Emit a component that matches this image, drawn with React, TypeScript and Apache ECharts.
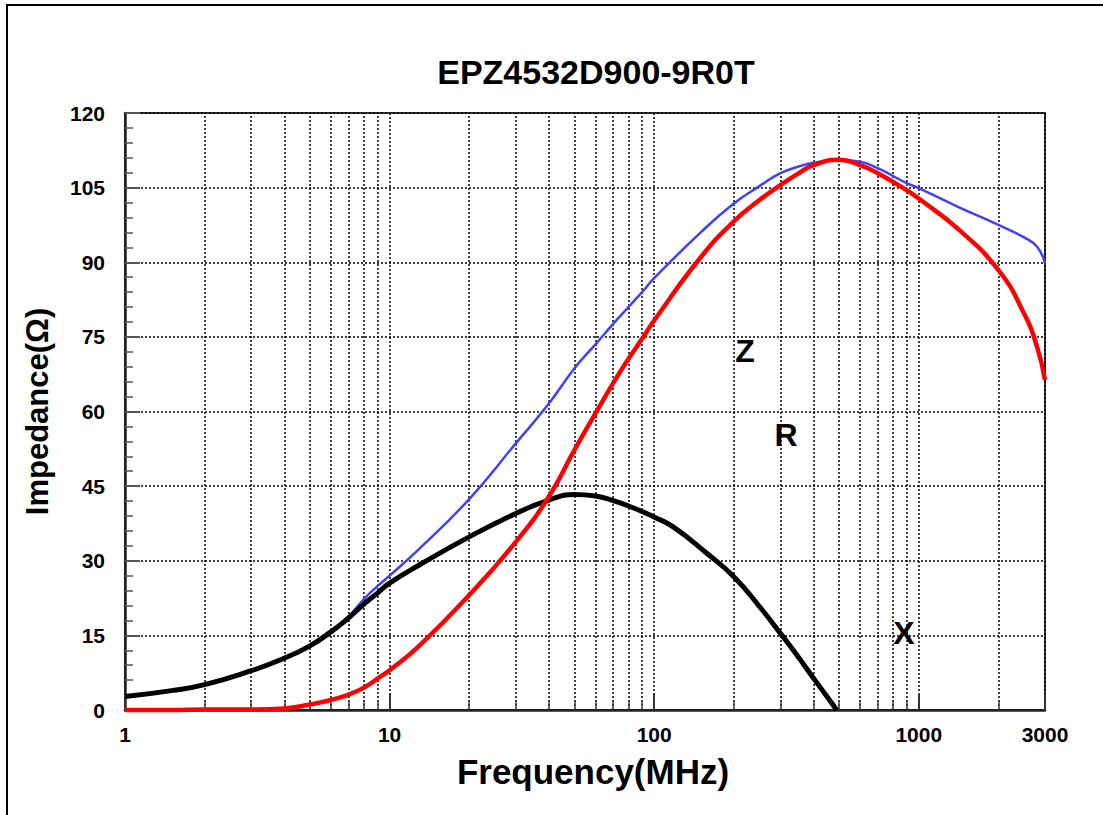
import React, { useEffect, useRef } from "react";
import * as echarts from "echarts";

// Frequency (MHz) samples for Z and R
const freqZR = [1, 1.5, 2, 3, 4, 5, 6, 7, 8, 9, 10, 13, 20, 30, 40, 50, 60, 70, 80, 90, 100, 150, 200, 250, 300, 350, 400, 500, 600, 700, 900, 1000, 1400, 2000, 2500, 2800, 3000];
const zValues = [2.7, 3.9, 5.0, 7.9, 10.4, 13.0, 15.8, 18.8, 22.3, 24.9, 27.0, 32.5, 42.4, 53.6, 61.6, 68.7, 73.5, 77.6, 81.0, 84.0, 86.8, 96.0, 101.8, 105.3, 107.9, 109.2, 110.0, 110.6, 110.2, 108.9, 105.9, 104.9, 101.2, 97.5, 95.0, 93.1, 89.8];
const rValues = [0, 0, 0.1, 0.1, 0.3, 1.1, 2.0, 3.1, 4.5, 6.3, 8.0, 13.0, 23.1, 33.8, 42.9, 52.3, 59.6, 65.7, 70.6, 74.6, 78.3, 91.0, 98.2, 102.5, 105.5, 107.8, 109.5, 110.6, 109.5, 107.9, 104.5, 102.8, 96.8, 88.4, 79.7, 73.0, 66.3];
// Frequency samples for X
const freqX = [1, 1.5, 2, 3, 4, 5, 6, 7, 8, 9, 10, 13, 20, 30, 40, 50, 60, 70, 80, 90, 100, 118, 158, 200, 250, 300, 350, 400, 490];
const xValues = [2.7, 3.9, 5.1, 7.9, 10.4, 12.9, 15.7, 18.5, 21.3, 23.5, 25.5, 29.2, 34.8, 39.5, 42.2, 43.3, 43.0, 42.1, 41.0, 39.9, 38.8, 36.8, 31.5, 26.8, 20.8, 15.4, 10.7, 6.4, 0];
// Minor vertical grid lines / minor ticks on the frequency axis
const minorGrid = [2, 3, 4, 5, 6, 7, 8, 9, 20, 30, 40, 50, 60, 70, 80, 90, 200, 300, 400, 500, 600, 700, 800, 900, 2000];

const FONT = "Liberation Sans, Arial, sans-serif";

export default function App() {
  const ref = useRef<HTMLDivElement>(null);
  useEffect(() => {
    if (!ref.current) return;
    const chart = echarts.init(ref.current, null, { renderer: "svg" });
    const dotted = { color: "#000", width: 1.5, type: [2, 2] as any };
    chart.setOption({
      animation: false,
      backgroundColor: "#fff",
      title: {
        text: "EPZ4532D900-9R0T",
        left: 591,
        top: 50,
        textAlign: "center",
        textStyle: { fontFamily: FONT, fontSize: 34, fontWeight: "bold", color: "#000" },
      },
      grid: {
        left: 125,
        top: 113,
        right: 58,
        bottom: 105,
        show: true,
        borderColor: "#333",
        borderWidth: 2,
        backgroundColor: "transparent",
      },
      xAxis: {
        type: "log",
        logBase: 10,
        min: 1,
        max: 3000,
        name: "Frequency(MHz)",
        nameLocation: "middle",
        nameGap: 44,
        nameTextStyle: { fontFamily: FONT, fontSize: 35, fontWeight: "bold", color: "#000", padding: [0, 0, 0, 16] },
        axisLine: { show: true, onZero: false, lineStyle: { color: "#222", width: 2.5 } },
        axisTick: { show: true, inside: true, length: 16, lineStyle: { color: "#333", width: 2 } },
        axisLabel: {
          fontFamily: FONT,
          fontSize: 21,
          fontWeight: "bold",
          color: "#000",
          margin: 14,
          formatter: (v: number) => String(Math.round(v)),
        },
        splitLine: { show: true, lineStyle: dotted },
      },
      yAxis: {
        type: "value",
        min: 0,
        max: 120,
        interval: 15,
        name: "Impedance(Ω)",
        nameLocation: "middle",
        nameGap: 72,
        nameTextStyle: { fontFamily: FONT, fontSize: 31, fontWeight: "bold", color: "#000" },
        axisLine: { show: true, lineStyle: { color: "#222", width: 2.5 } },
        axisTick: { show: true, inside: true, length: 15, lineStyle: { color: "#555", width: 2 } },
        minorTick: { show: true, splitNumber: 5, length: 8, lineStyle: { color: "#555", width: 1.5 } },
        axisLabel: { fontFamily: FONT, fontSize: 21, fontWeight: "bold", color: "#000", margin: 20 },
        splitLine: { show: true, lineStyle: dotted },
      },
      series: [
        {
          name: "Z",
          type: "line",
          data: freqZR.map((f, i) => [f, zValues[i]]),
          smooth: 0.5,
          showSymbol: false,
          clip: false,
          z: 3,
          lineStyle: { color: "#3f3fff", width: 2.5 },
          markLine: {
            silent: true,
            symbol: "none",
            z: 1,
            label: { show: false },
            lineStyle: dotted,
            data: minorGrid.map((v) => ({ xAxis: v })),
          },
        },
        {
          name: "X",
          type: "line",
          data: freqX.map((f, i) => [f, xValues[i]]),
          smooth: 0.5,
          showSymbol: false,
          clip: false,
          z: 4,
          lineStyle: { color: "#000", width: 5 },
          markLine: {
            silent: true,
            symbol: "none",
            z: 1,
            label: { show: false },
            lineStyle: { color: "#444", width: 1.5, type: "solid" },
            data: minorGrid.map((v) => [{ coord: [v, 0] }, { coord: [v, 1.6] }]),
          },
        },
        {
          name: "R",
          type: "line",
          data: freqZR.map((f, i) => [f, rValues[i]]),
          smooth: 0.5,
          showSymbol: false,
          clip: false,
          z: 5,
          lineStyle: { color: "#ff0000", width: 4.5 },
        },
      ],
      graphic: [
        {
          type: "rect",
          shape: { x: 7, y: 5, width: 1120, height: 840 },
          style: { fill: "none", stroke: "#000", lineWidth: 2 },
          silent: true,
        },
        {
          type: "text",
          x: 745,
          y: 351,
          style: { text: "Z", fontFamily: FONT, fontSize: 32, fontWeight: "bold", fill: "#000", align: "center", verticalAlign: "middle" },
        },
        {
          type: "text",
          x: 786,
          y: 435,
          style: { text: "R", fontFamily: FONT, fontSize: 32, fontWeight: "bold", fill: "#000", align: "center", verticalAlign: "middle" },
        },
        {
          type: "text",
          x: 904,
          y: 633,
          style: { text: "X", fontFamily: FONT, fontSize: 32, fontWeight: "bold", fill: "#000", align: "center", verticalAlign: "middle" },
        },
      ],
    });
    return () => chart.dispose();
  }, []);
  return (
    <div
      ref={ref}
      style={{ position: "fixed", left: 0, top: 0, width: 1103, height: 815, background: "#fff" }}
    />
  );
}
